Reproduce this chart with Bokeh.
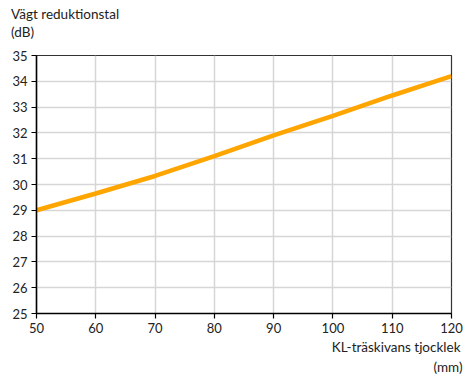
from bokeh.plotting import figure
from bokeh.models import Range1d, FixedTicker, Title, Div
from bokeh.layouts import column
from bokeh.embed import file_html
from bokeh.resources import INLINE

# Data
thickness_mm = [50, 60, 70, 80, 90, 100, 110, 120]
reduction_db = [29.0, 29.65, 30.33, 31.1, 31.9, 32.66, 33.45, 34.2]
x_ticks = [50, 60, 70, 80, 90, 100, 110, 120]
y_ticks = [25, 26, 27, 28, 29, 30, 31, 32, 33, 34, 35]
y_title = ["Vägt reduktionstal", "(dB)"]
x_title = ["KL-träskivans tjocklek", "(mm)"]

FONT = "Lato"
TXT = "#222222"

header = Div(
    text=("<div style='position:relative; left:11px; top:5px; font-family:Lato; "
          "font-size:13.5px; line-height:18px; color:#222222; white-space:nowrap;'>"
          + y_title[0] + "<br>" + y_title[1] + "</div>"),
    width=470, height=41, margin=0)

p = figure(width=470, height=342, output_backend="svg", toolbar_location=None,
           x_range=Range1d(50, 120), y_range=Range1d(25, 35),
           min_border_left=36, min_border_right=19, min_border_top=14, min_border_bottom=70)
p.margin = 0
p.title.visible = False

p.line(thickness_mm, reduction_db, line_color="#FFA500", line_width=4.5)

for ax in (p.xaxis[0], p.yaxis[0]):
    ax.axis_line_color = "black"
    ax.axis_line_width = 1.5
    ax.major_tick_line_color = "black"
    ax.major_tick_line_width = 1.2
    ax.major_tick_out = 5
    ax.major_tick_in = 0
    ax.minor_tick_line_color = None
    ax.major_label_text_font = FONT
    ax.major_label_text_font_size = "13px"
    ax.major_label_text_color = TXT
    ax.major_label_standoff = 4

p.xaxis[0].ticker = FixedTicker(ticks=x_ticks)
p.yaxis[0].ticker = FixedTicker(ticks=y_ticks)

p.xgrid.grid_line_color = "#d6d6d6"
p.xgrid.grid_line_width = 1.5
p.ygrid.grid_line_color = "#d6d6d6"
p.ygrid.grid_line_width = 1.5
p.xgrid.ticker = FixedTicker(ticks=x_ticks)
p.ygrid.ticker = FixedTicker(ticks=y_ticks)

p.outline_line_color = "#333333"
p.outline_line_width = 1.2

def mk(text, align, offset, standoff):
    return Title(text=text, align=align, offset=offset, standoff=standoff,
                 text_font=FONT, text_font_size="13.5px", text_color=TXT,
                 text_font_style="normal")

# below: after the x axis
p.add_layout(mk(x_title[0], "right", -9, 2), "below")
p.add_layout(mk(x_title[1], "right", -11, 2), "below")

layout = column(header, p, spacing=0, margin=0)
open("out.html", "w").write(file_html(layout, INLINE))
